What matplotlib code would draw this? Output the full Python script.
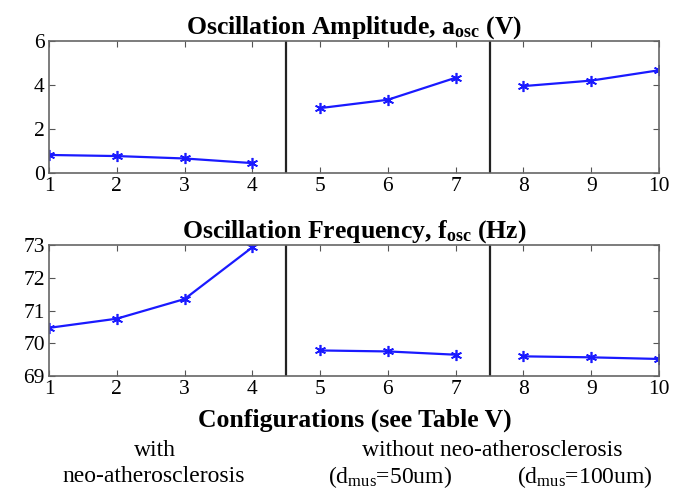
import matplotlib
matplotlib.use('Agg')
import matplotlib.pyplot as plt

plt.rcParams['font.family'] = ['Liberation Serif', 'DejaVu Serif']
plt.rcParams['mathtext.fontset'] = 'custom'
plt.rcParams['mathtext.rm'] = 'Liberation Serif'
plt.rcParams['mathtext.bf'] = 'Liberation Serif:bold'
plt.rcParams['mathtext.it'] = 'Liberation Serif:italic'

# データ
groups = [[1, 2, 3, 4], [5, 6, 7], [8, 9, 10]]
amp = [[0.82, 0.77, 0.66, 0.45], [2.95, 3.33, 4.33], [3.95, 4.20, 4.67]]
freq = [[70.47, 70.75, 71.35, 72.93], [69.78, 69.75, 69.65], [69.60, 69.57, 69.52]]
separators = [4.5, 7.5]
xticks = list(range(1, 11))

W, H = 691, 491
fig = plt.figure(figsize=(W / 100, H / 100), dpi=100)
ax1 = fig.add_axes([49 / W, 1 - 173 / H, 610 / W, 132 / H])
ax2 = fig.add_axes([49 / W, 1 - 376 / H, 610 / W, 131 / H])


def draw(ax, data, ylim, yticks, title):
    for xs, ys in zip(groups, data):
        ax.plot(xs, ys, color='#1a1aff', lw=1.6, marker=(6, 2, 0), markersize=8,
                markeredgewidth=1.2)
    for s in separators:
        ax.axvline(s, color='#222222', lw=1.6)
    ax.set_xlim(1, 10)
    ax.set_ylim(*ylim)
    ax.set_xticks(xticks)
    ax.set_yticks(yticks)
    ax.tick_params(direction='in', top=True, right=True, labelsize=15.5,
                   length=4, pad=3, color='#555555')
    for sp in ax.spines.values():
        sp.set_color('#666666')
        sp.set_linewidth(1.2)
    ax.set_title(title, fontsize=18.5, fontweight='bold', pad=5)


draw(ax1, amp, (0, 6), [0, 2, 4, 6],
     r'Oscillation Amplitude, $\mathbf{a}_{\mathbf{osc}}$ (V)')
draw(ax2, freq, (69, 73), [69, 70, 71, 72, 73],
     r'Oscillation Frequency, $\mathbf{f}_{\mathbf{osc}}$ (Hz)')

fig.text(355 / W, 1 - 420 / H, 'Configurations (see Table V)',
         ha='center', va='center', fontsize=18.5, fontweight='bold')
fig.text(155 / W, 1 - 451 / H, 'with', ha='center', va='center', fontsize=17)
fig.text(154 / W, 1 - 477 / H, 'neo-atherosclerosis', ha='center', va='center', fontsize=17)
fig.text(492 / W, 1 - 451 / H, 'without neo-atherosclerosis', ha='center', va='center', fontsize=17)
fig.text(390 / W, 1 - 477 / H, r'(d$_{\mathrm{mus}}$=50um)', ha='center', va='center', fontsize=17)
fig.text(585 / W, 1 - 477 / H, r'(d$_{\mathrm{mus}}$=100um)', ha='center', va='center', fontsize=17)

fig.savefig('out.png', dpi=100)
